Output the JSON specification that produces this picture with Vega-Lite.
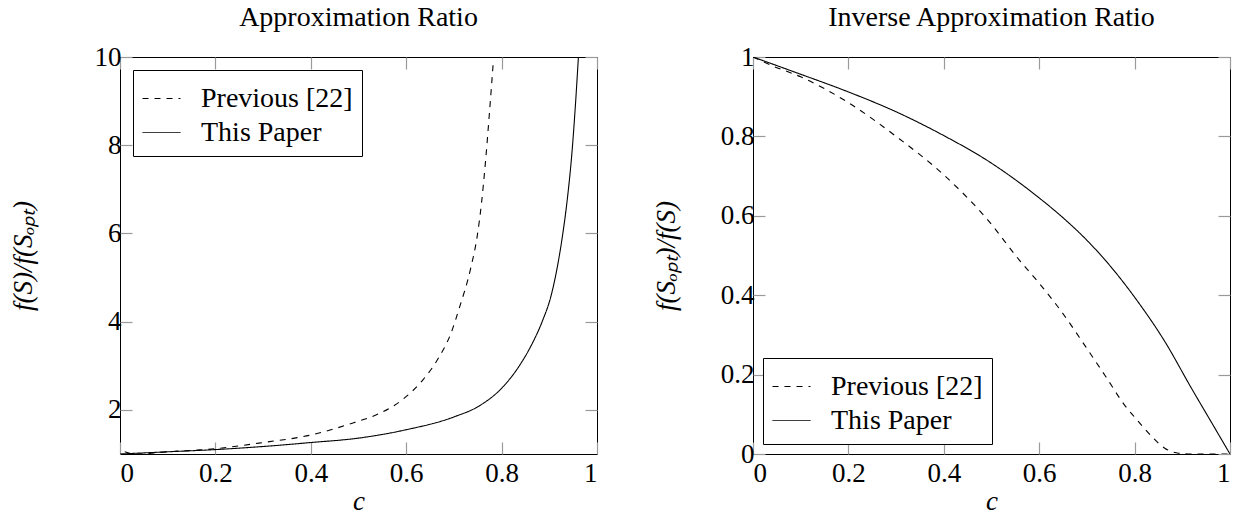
{
  "$schema": "https://vega.github.io/schema/vega-lite/v6.json",
  "padding": {"left": 8, "top": 3, "right": 10, "bottom": 0},
  "background": "white",
  "config": {
    "view": {"stroke": "black", "strokeWidth": 1},
    "font": "Liberation Serif",
    "axis": {
      "domain": false, "grid": false,
      "tickColor": "#9a9a9a", "tickSize": -12, "tickWidth": 1.2,
      "labelFont": "Liberation Serif", "labelFontSize": 27, "labelColor": "black",
      "labelPadding": 11,
      "titleFont": "Liberation Serif", "titleFontSize": 27, "titleFontStyle": "italic",
      "titleFontWeight": "normal", "titleColor": "black"
    },
    "legend": {
      "offset": 13, "strokeColor": "black", "fillColor": "white",
      "padding": 9, "cornerRadius": 0,
      "labelFont": "Liberation Serif", "labelFontSize": 28, "labelColor": "black", "labelLimit": 400,
      "labelOffset": 20,
      "symbolType": "stroke", "symbolStrokeColor": "black", "symbolStrokeWidth": 1,
      "symbolSize": 1444, "rowPadding": -5, "title": null
    },
    "title": {"font": "Liberation Serif", "fontSize": 28, "fontWeight": "normal", "color": "black", "offset": 11, "baseline": "alphabetic"}
  },
  "datasets": {
    "left": [
      {"c": 0.01, "value": 1.05, "series": "Previous [22]"},
      {"c": 0.03, "value": 1.0, "series": "Previous [22]"},
      {"c": 0.1, "value": 1.05, "series": "Previous [22]"},
      {"c": 0.2, "value": 1.12, "series": "Previous [22]"},
      {"c": 0.3, "value": 1.26, "series": "Previous [22]"},
      {"c": 0.4, "value": 1.43, "series": "Previous [22]"},
      {"c": 0.49, "value": 1.71, "series": "Previous [22]"},
      {"c": 0.544, "value": 1.92, "series": "Previous [22]"},
      {"c": 0.593, "value": 2.24, "series": "Previous [22]"},
      {"c": 0.635, "value": 2.68, "series": "Previous [22]"},
      {"c": 0.669, "value": 3.2, "series": "Previous [22]"},
      {"c": 0.694, "value": 3.74, "series": "Previous [22]"},
      {"c": 0.711, "value": 4.3, "series": "Previous [22]"},
      {"c": 0.735, "value": 5.2, "series": "Previous [22]"},
      {"c": 0.749, "value": 5.95, "series": "Previous [22]"},
      {"c": 0.758, "value": 6.7, "series": "Previous [22]"},
      {"c": 0.766, "value": 7.6, "series": "Previous [22]"},
      {"c": 0.775, "value": 8.8, "series": "Previous [22]"},
      {"c": 0.783, "value": 9.95, "series": "Previous [22]"},
      {"c": 0.0, "value": 1.0, "series": "This Paper"},
      {"c": 0.1, "value": 1.05, "series": "This Paper"},
      {"c": 0.2, "value": 1.1, "series": "This Paper"},
      {"c": 0.3, "value": 1.17, "series": "This Paper"},
      {"c": 0.4, "value": 1.26, "series": "This Paper"},
      {"c": 0.5, "value": 1.36, "series": "This Paper"},
      {"c": 0.6, "value": 1.55, "series": "This Paper"},
      {"c": 0.7, "value": 1.84, "series": "This Paper"},
      {"c": 0.753, "value": 2.09, "series": "This Paper"},
      {"c": 0.8, "value": 2.49, "series": "This Paper"},
      {"c": 0.836, "value": 2.98, "series": "This Paper"},
      {"c": 0.864, "value": 3.5, "series": "This Paper"},
      {"c": 0.885, "value": 4.0, "series": "This Paper"},
      {"c": 0.904, "value": 4.6, "series": "This Paper"},
      {"c": 0.917, "value": 5.25, "series": "This Paper"},
      {"c": 0.927, "value": 5.9, "series": "This Paper"},
      {"c": 0.938, "value": 6.8, "series": "This Paper"},
      {"c": 0.948, "value": 7.9, "series": "This Paper"},
      {"c": 0.955, "value": 8.95, "series": "This Paper"},
      {"c": 0.961, "value": 10.0, "series": "This Paper"}
    ],
    "right": [
      {"c": 0.0, "value": 1.0, "series": "Previous [22]"},
      {"c": 0.036, "value": 0.98, "series": "Previous [22]"},
      {"c": 0.1, "value": 0.95, "series": "Previous [22]"},
      {"c": 0.2, "value": 0.885, "series": "Previous [22]"},
      {"c": 0.3, "value": 0.8, "series": "Previous [22]"},
      {"c": 0.4, "value": 0.703, "series": "Previous [22]"},
      {"c": 0.489, "value": 0.594, "series": "Previous [22]"},
      {"c": 0.558, "value": 0.489, "series": "Previous [22]"},
      {"c": 0.6, "value": 0.43, "series": "Previous [22]"},
      {"c": 0.649, "value": 0.355, "series": "Previous [22]"},
      {"c": 0.697, "value": 0.271, "series": "Previous [22]"},
      {"c": 0.739, "value": 0.196, "series": "Previous [22]"},
      {"c": 0.781, "value": 0.12, "series": "Previous [22]"},
      {"c": 0.8, "value": 0.093, "series": "Previous [22]"},
      {"c": 0.836, "value": 0.044, "series": "Previous [22]"},
      {"c": 0.864, "value": 0.014, "series": "Previous [22]"},
      {"c": 0.892, "value": 0.002, "series": "Previous [22]"},
      {"c": 0.92, "value": 0.0, "series": "Previous [22]"},
      {"c": 1.0, "value": 0.0, "series": "Previous [22]"},
      {"c": 0.0, "value": 1.0, "series": "This Paper"},
      {"c": 0.092, "value": 0.96, "series": "This Paper"},
      {"c": 0.2, "value": 0.912, "series": "This Paper"},
      {"c": 0.3, "value": 0.862, "series": "This Paper"},
      {"c": 0.4, "value": 0.802, "series": "This Paper"},
      {"c": 0.489, "value": 0.741, "series": "This Paper"},
      {"c": 0.6, "value": 0.645, "series": "This Paper"},
      {"c": 0.65, "value": 0.595, "series": "This Paper"},
      {"c": 0.697, "value": 0.542, "series": "This Paper"},
      {"c": 0.75, "value": 0.472, "series": "This Paper"},
      {"c": 0.8, "value": 0.395, "series": "This Paper"},
      {"c": 0.864, "value": 0.282, "series": "This Paper"},
      {"c": 0.919, "value": 0.166, "series": "This Paper"},
      {"c": 0.961, "value": 0.08, "series": "This Paper"},
      {"c": 1.0, "value": 0.0, "series": "This Paper"}
    ]
  },
  "resolve": {"scale": {"strokeDash": "independent"}, "legend": {"strokeDash": "independent"}},
  "spacing": 52,
  "hconcat": [
    {
      "width": 477, "height": 397,
      "title": "Approximation Ratio",
      "data": {"name": "left"},
      "resolve": {"axis": {"x": "independent", "y": "independent"}},
      "layer": [
        {
          "mark": {"type": "line", "color": "black", "strokeWidth": 1.1, "clip": true, "interpolate": "monotone"},
          "encoding": {
            "x": {"field": "c", "type": "quantitative", "scale": {"domain": [0, 1], "nice": false},
                  "axis": {"values": [0, 0.2, 0.4, 0.6, 0.8, 1], "format": "~g", "title": "c", "titlePadding": 2, "labelPadding": 18}},
            "y": {"field": "value", "type": "quantitative", "scale": {"domain": [1, 10], "nice": false, "zero": false},
                  "axis": {"values": [2, 4, 6, 8, 10], "format": "d", "title": "f(S)/f(Sₒₚₜ)", "titlePadding": 57}},
            "strokeDash": {"field": "series", "type": "nominal",
                           "scale": {"domain": ["Previous [22]", "This Paper"], "range": [[6, 6], [1, 0]]},
                           "legend": {"orient": "top-left", "offset": 13}},
            "order": {"field": "c", "type": "quantitative"}
          }
        },
        {
          "mark": {"type": "line", "color": "black", "strokeOpacity": 0},
          "encoding": {
            "x": {"field": "c", "type": "quantitative", "axis": {"orient": "top", "values": [0, 0.2, 0.4, 0.6, 0.8, 1], "labels": false, "title": null}},
            "y": {"field": "value", "type": "quantitative", "axis": {"orient": "right", "values": [2, 4, 6, 8, 10], "labels": false, "title": null}},
            "detail": {"field": "series", "type": "nominal"}
          }
        }
      ]
    },
    {
      "width": 477, "height": 397,
      "title": "Inverse Approximation Ratio",
      "data": {"name": "right"},
      "resolve": {"axis": {"x": "independent", "y": "independent"}},
      "layer": [
        {
          "mark": {"type": "line", "color": "black", "strokeWidth": 1.1, "clip": true, "interpolate": "monotone"},
          "encoding": {
            "x": {"field": "c", "type": "quantitative", "scale": {"domain": [0, 1], "nice": false},
                  "axis": {"values": [0, 0.2, 0.4, 0.6, 0.8, 1], "format": "~g", "title": "c", "titlePadding": 2, "labelPadding": 18}},
            "y": {"field": "value", "type": "quantitative", "scale": {"domain": [0, 1], "nice": false},
                  "axis": {"values": [0, 0.2, 0.4, 0.6, 0.8, 1], "format": "~g", "title": "f(Sₒₚₜ)/f(S)", "titlePadding": 40}},
            "strokeDash": {"field": "series", "type": "nominal",
                           "scale": {"domain": ["Previous [22]", "This Paper"], "range": [[6, 6], [1, 0]]},
                           "legend": {"orient": "bottom-left", "offset": 10}},
            "order": {"field": "c", "type": "quantitative"}
          }
        },
        {
          "mark": {"type": "line", "color": "black", "strokeOpacity": 0},
          "encoding": {
            "x": {"field": "c", "type": "quantitative", "axis": {"orient": "top", "values": [0, 0.2, 0.4, 0.6, 0.8, 1], "labels": false, "title": null}},
            "y": {"field": "value", "type": "quantitative", "axis": {"orient": "right", "values": [0, 0.2, 0.4, 0.6, 0.8, 1], "labels": false, "title": null}},
            "detail": {"field": "series", "type": "nominal"}
          }
        }
      ]
    }
  ]
}
